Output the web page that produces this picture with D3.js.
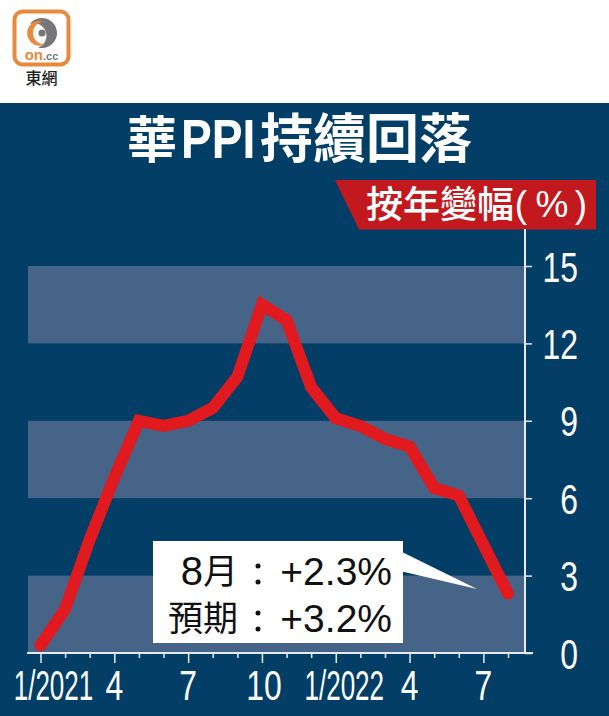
<!DOCTYPE html>
<html>
<head>
  <meta charset="utf-8">
  <title>華PPI持續回落</title>
  <style>
    html, body { margin: 0; padding: 0; background: #fff; }
    svg { display: block; }
    text { font-family: "Noto Sans CJK TC", "Noto Sans", sans-serif; }
    .num { font-family: "Liberation Sans", sans-serif; fill: #fff; }
  </style>
  <script src="https://d3js.org/d3.v7.min.js"></script>
</head>
<body>
  <svg id="chart" width="609" height="716"></svg>

  <script>
    const months = d3.range(0, 20); // 0 = Jan 2021
    const ppiValues = [0.3, 1.7, 4.4, 6.8, 9.0, 8.8, 9.0, 9.5, 10.7, 13.5, 12.9, 10.3, 9.1, 8.8, 8.3, 8.0, 6.4, 6.1, 4.2, 2.3];
    const yTicks = [0, 3, 6, 9, 12, 15];
    const bands = [[0, 3], [6, 9], [12, 15]];
    const xTickMonths = [0, 3, 6, 9, 12, 15, 18];
    const xTickLabels = ['1/2021', '4', '7', '10', '1/2022', '4', '7'];
    const xLabelNudge = [13, 0, 0, 2, 8.5, 0, 0];

    const navy = '#023e66', band = '#456487', red = '#e01a1f', axisCol = '#e4eaf0';

    const svg = d3.select('#chart');
    const x = d3.scaleLinear().domain([0, 19]).range([40.5, 508]);
    const y = d3.scaleLinear().domain([0, 15]).range([653, 266]);

    svg.append('rect').attr('x', 0).attr('y', 103).attr('width', 609).attr('height', 613).attr('fill', navy);

    // logo
    const logo = svg.append('g');
    logo.append('rect').attr('x', 14.5).attr('y', 11.5).attr('width', 54).attr('height', 53).attr('rx', 8)
      .attr('fill', '#fff').attr('stroke', '#e8893c').attr('stroke-width', 4);
    logo.append('path').attr('d', 'M30 24 A15 15 0 1 1 38 47.5 A12 12 0 0 0 30 24 Z').attr('fill', '#77777b');
    logo.append('path').attr('d', 'M45 44.5 A12.5 12.5 0 1 1 44 21.5 A10.5 10.5 0 1 0 45 44.5 Z').attr('fill', '#e8893c');
    logo.append('circle').attr('cx', 42).attr('cy', 33).attr('r', 3.6).attr('fill', '#77777b');
    const logoText = logo.append('text').attr('x', 41.5).attr('y', 60).attr('text-anchor', 'middle')
      .attr('font-size', 15).attr('font-weight', 700).attr('fill', '#e8893c')
      .style('font-family', 'Liberation Sans');
    logoText.append('tspan').text('on');
    logoText.append('tspan').attr('font-size', 11).attr('fill', '#77777b').text('.cc');
    logo.append('text').attr('x', 41.5).attr('y', 84).attr('text-anchor', 'middle')
      .attr('font-size', 16).attr('font-weight', 500).attr('fill', '#222').text('東網');

    // title
    const titleY = 158;
    svg.append('text').attr('x', 127).attr('y', titleY).attr('font-size', 50).attr('font-weight', 700).attr('fill', '#fff').text('華');
    svg.append('text').attr('transform', `translate(181,${titleY}) scale(0.84,1)`).attr('font-size', 55).attr('font-weight', 700).attr('fill', '#fff')
      .style('font-family', 'Liberation Sans').text('PPI');
    svg.append('text').attr('x', 260).attr('y', titleY).attr('font-size', 53).attr('font-weight', 700).attr('fill', '#fff').text('持續回落');

    // bands
    svg.selectAll('.band').data(bands).enter().append('rect').attr('class', 'band')
      .attr('x', 28).attr('width', 497)
      .attr('y', d => y(d[1])).attr('height', d => y(d[0]) - y(d[1]))
      .attr('fill', band);

    // unit tag
    svg.append('path').attr('d', 'M335 180 H596 V229.5 H359 Z').attr('fill', '#c2191f');
    const tagY = 218;
    svg.append('text').attr('x', 366).attr('y', tagY).attr('font-size', 37).attr('font-weight', 500).attr('fill', '#fff').text('按年變幅');
    [['(', 521], ['%', 552], [')', 581]].forEach(t => {
      svg.append('text').attr('class', 'num').attr('x', t[1]).attr('y', tagY - 1).attr('text-anchor', 'middle').attr('font-size', 37).text(t[0]);
    });

    // y axis
    const yAxis = svg.append('g').attr('transform', 'translate(525,0)')
      .call(d3.axisRight(y).tickValues(yTicks).tickSize(7).tickFormat(d3.format('d')));
    yAxis.select('.domain').remove();
    yAxis.selectAll('line').attr('stroke', axisCol).attr('stroke-width', 1.5);
    yAxis.selectAll('text').attr('class', 'num').attr('font-size', 42).attr('dy', null).attr('x', null)
      .attr('text-anchor', 'end').attr('transform', 'translate(53,15) scale(0.76,1)');
    svg.append('line').attr('x1', 525).attr('x2', 525).attr('y1', 229).attr('y2', 653).attr('stroke', axisCol).attr('stroke-width', 2);

    // x axis
    const xAxis = svg.append('g').attr('transform', 'translate(0,653)')
      .call(d3.axisBottom(x).tickValues(months).tickSize(5).tickFormat(''));
    xAxis.select('.domain').remove();
    xAxis.selectAll('line').attr('stroke', axisCol).attr('stroke-width', 1.5)
      .attr('y2', d => d % 3 === 0 ? 10 : 5);
    svg.append('line').attr('x1', 27).attr('x2', 533).attr('y1', 653).attr('y2', 653).attr('stroke', axisCol).attr('stroke-width', 2);

    svg.selectAll('.xlab').data(xTickMonths).enter().append('text').attr('class', 'num xlab')
      .attr('text-anchor', 'middle').attr('font-size', 42)
      .attr('transform', (d, i) => {
        const wide = xTickLabels[i].length > 2;
        return `translate(${x(d) + xLabelNudge[i]},700) scale(${wide ? 0.62 : 0.76},1)`;
      })
      .text((d, i) => xTickLabels[i]);

    // line
    const line = d3.line().x((d, i) => x(months[i])).y(d => y(d));
    svg.append('path').datum(ppiValues).attr('d', line).attr('fill', 'none')
      .attr('stroke', red).attr('stroke-width', 12).attr('stroke-linecap', 'round').attr('stroke-linejoin', 'miter');

    // callout
    svg.append('path').attr('d', 'M400 551 L477 589 L400 571 Z').attr('fill', '#fff');
    svg.append('rect').attr('x', 153).attr('y', 541).attr('width', 250).attr('height', 102).attr('fill', '#fff');
    const latin = 'Liberation Sans';
    const calloutRows = [['月', '8', '+2.3%', 585], ['預期', '', '+3.2%', 632]];
    calloutRows.forEach(r => {
      svg.append('text').attr('x', 238).attr('y', r[3] - 1).attr('text-anchor', 'end').attr('font-size', 35).attr('fill', '#111').text(r[0]);
      if (r[1]) svg.append('text').attr('x', 203).attr('y', r[3]).attr('text-anchor', 'end').attr('font-size', 40).attr('fill', '#111').style('font-family', latin).text(r[1]);
      svg.append('circle').attr('cx', 258).attr('cy', r[3] - 19).attr('r', 2.5).attr('fill', '#111');
      svg.append('circle').attr('cx', 258).attr('cy', r[3] - 3).attr('r', 2.5).attr('fill', '#111');
      svg.append('text').attr('x', 392).attr('y', r[3]).attr('text-anchor', 'end').attr('font-size', 39).attr('fill', '#111')
        .style('font-family', latin).text(r[2]);
    });
  </script>
</body>
</html>
